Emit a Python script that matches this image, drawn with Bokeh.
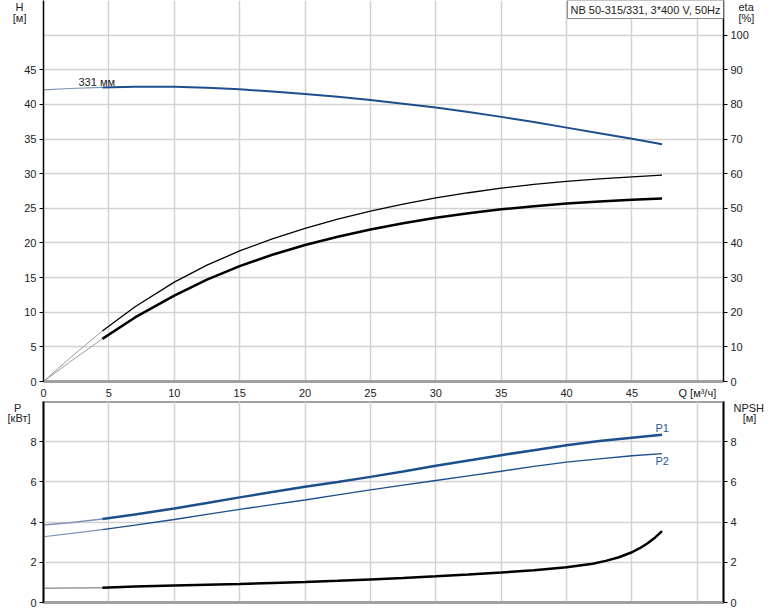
from bokeh.plotting import figure
from bokeh.models import Range1d, LinearAxis, FixedTicker, Label
from bokeh.layouts import column
from bokeh.embed import file_html
from bokeh.resources import INLINE

# ---------------- data ----------------
q = [0, 2, 4.5, 7, 10, 12.5, 15, 17.5, 20, 22.5, 25, 27.5, 30, 32.5, 35, 37.5, 40, 42.5, 45, 47.3]
head = [42.1, 42.3, 42.45, 42.55, 42.55, 42.4, 42.2, 41.85, 41.5, 41.1, 40.65, 40.1, 39.55, 38.9,
        38.2, 37.45, 36.65, 35.85, 35.05, 34.25]
eta1 = [0, 6.7, 14.6, 21.6, 28.7, 33.6, 37.7, 41.2, 44.2, 46.9, 49.2, 51.2, 53.0, 54.5,
        55.8, 56.9, 57.8, 58.5, 59.1, 59.6]
eta2 = [0, 5.6, 12.3, 18.5, 24.8, 29.4, 33.3, 36.6, 39.4, 41.8, 43.9, 45.7, 47.3, 48.6,
        49.7, 50.6, 51.4, 52.0, 52.45, 52.8]
p1 = [3.85, 3.97, 4.15, 4.38, 4.68, 4.95, 5.23, 5.5, 5.76, 6.0, 6.25, 6.52, 6.8, 7.07,
      7.33, 7.58, 7.82, 8.03, 8.2, 8.35]
p2 = [3.27, 3.43, 3.63, 3.85, 4.13, 4.38, 4.63, 4.87, 5.1, 5.35, 5.6, 5.84, 6.07, 6.3,
      6.53, 6.77, 6.98, 7.15, 7.3, 7.41]
q_npsh = [0, 2, 4.5, 7, 10, 12.5, 15, 17.5, 20, 22.5, 25, 27.5, 30, 32.5, 35, 37.5, 40, 42,
          43, 44, 45, 45.6, 46.2, 46.8, 47.3]
npsh = [0.71, 0.72, 0.74, 0.79, 0.84, 0.88, 0.92, 0.97, 1.02, 1.08, 1.15, 1.22, 1.3, 1.39,
        1.49, 1.6, 1.75, 1.93, 2.07, 2.25, 2.5, 2.7, 2.95, 3.25, 3.55]

q_split = 4.5
q_ticks = [0, 5, 10, 15, 20, 25, 30, 35, 40, 45, 50]
q_grid = [5, 10, 15, 20, 25, 30, 35, 40, 45, 50]
h_ticks = [0, 5, 10, 15, 20, 25, 30, 35, 40, 45]
h_grid = [5, 10, 15, 20, 25, 30, 35, 40, 45, 50]
eta_ticks = [0, 10, 20, 30, 40, 50, 60, 70, 80, 90, 100]
p_ticks = [0, 2, 4, 6, 8]
p_grid = [2, 4, 6, 8]
title_text = "NB 50-315/331, 3*400 V, 50Hz"
curve_label = "331 мм"
NB = "\u00a0"

# ---------------- styles ----------------
FONT = "Liberation Sans"
TXT = "#222222"
BLUE = "#1c4f8c"
BLUE_LIGHT = "#7d93b3"
GREY_EXT = "#9a9a9a"
GRID = "#d2d2d2"
XMAX = 52
HMAX = 55
PMAX = 10
FW, FH_TOP, FH_BOT = 680, 381, 201
BOT_FRAME_BOTTOM = 602
LEFT, RIGHT = 43, 51


def split(xs, ys, qb=q_split):
    ext = [(x, y) for x, y in zip(xs, ys) if x <= qb]
    main = [(x, y) for x, y in zip(xs, ys) if x >= qb]
    return ([a for a, _ in ext], [b for _, b in ext]), ([a for a, _ in main], [b for _, b in main])


def style_y_axis(ax):
    ax.axis_line_color = "black"
    ax.axis_line_width = 1.5
    ax.major_tick_line_color = "black"
    ax.major_tick_out = 4
    ax.major_tick_in = 0
    ax.minor_tick_line_color = None
    ax.major_label_standoff = 3
    ax.major_label_text_font = FONT
    ax.major_label_text_font_size = "11px"
    ax.major_label_text_color = TXT


def style_x_axis(ax):
    ax.axis_line_color = "#a0a0a0"
    ax.axis_line_width = 3
    ax.major_tick_line_color = None
    ax.minor_tick_line_color = None
    ax.major_tick_out = 0
    ax.major_tick_in = 0
    ax.major_label_standoff = 5
    ax.major_label_text_font = FONT
    ax.major_label_text_font_size = "11px"
    ax.major_label_text_color = TXT


def title_axis(fig, side, labels, standoff, range_name="default"):
    """An extra, line-less axis whose two tick labels act as the axis titles."""
    ax = LinearAxis(y_range_name=range_name, ticker=FixedTicker(ticks=list(labels.keys())),
                    major_label_overrides=labels)
    ax.axis_line_color = None
    ax.major_tick_line_color = None
    ax.minor_tick_line_color = None
    ax.major_tick_out = 0
    ax.major_tick_in = 0
    ax.major_label_standoff = standoff
    ax.major_label_text_font = FONT
    ax.major_label_text_font_size = "11px"
    ax.major_label_text_color = TXT
    fig.add_layout(ax, side)


def ty_top(py):
    return (FH_TOP - py) / FH_TOP * HMAX


def ty_bot(py):
    return (BOT_FRAME_BOTTOM - py) / FH_BOT * PMAX


def tx(px):
    return (px - LEFT) / FW * XMAX


# ---------------- top figure ----------------
top = figure(frame_width=FW, frame_height=FH_TOP, x_range=Range1d(0, XMAX), y_range=Range1d(0, HMAX),
             output_backend="svg", toolbar_location=None,
             min_border_left=LEFT, min_border_right=RIGHT, min_border_top=0, min_border_bottom=18,
             background_fill_color="white", border_fill_color="white")
top.outline_line_color = None
top.extra_y_ranges = {"eta": Range1d(0, HMAX * 2)}

style_x_axis(top.xaxis[0])
top.xaxis[0].ticker = FixedTicker(ticks=q_ticks)
top.xaxis[0].major_label_overrides = {50: "Q [м³/ч]"}
style_y_axis(top.yaxis[0])
top.yaxis[0].ticker = FixedTicker(ticks=h_ticks)
eta_axis = LinearAxis(y_range_name="eta", ticker=FixedTicker(ticks=eta_ticks))
style_y_axis(eta_axis)
top.add_layout(eta_axis, "right")

title_axis(top, "left", {ty_top(5): "H" + NB, ty_top(17.5): "[м]"}, -5)
title_axis(top, "right", {ty_top(5) * 2: "eta", ty_top(17.5) * 2: "[%]"}, -13, "eta")

top.xgrid.ticker = FixedTicker(ticks=q_grid)
top.ygrid.ticker = FixedTicker(ticks=h_grid)
top.grid.grid_line_color = GRID
top.grid.grid_line_width = 1.5

(hx, hy), (hmx, hmy) = split(q, head)
top.line(hx, hy, line_color=BLUE_LIGHT, line_width=1.2)
top.line(hmx, hmy, line_color=BLUE, line_width=2)

(ex, ey), (emx, emy) = split(q, eta1)
top.line(ex, ey, line_color=GREY_EXT, line_width=1, y_range_name="eta")
top.line(emx, emy, line_color="black", line_width=1.3, y_range_name="eta")
(ex2, ey2), (emx2, emy2) = split(q, eta2)
top.line(ex2, ey2, line_color=GREY_EXT, line_width=1, y_range_name="eta")
top.line(emx2, emy2, line_color="black", line_width=2.5, y_range_name="eta")

top.add_layout(Label(x=tx(78), y=ty_top(81.5), text=curve_label, text_font=FONT,
                     text_font_size="11px", text_color=TXT, text_align="left",
                     text_baseline="middle"))
top.add_layout(Label(x=XMAX, y=HMAX, text=title_text, text_font=FONT, text_font_size="11px",
                     text_color=TXT, text_align="right", text_baseline="top",
                     border_line_color="#8a8a8a", border_line_width=1,
                     background_fill_color="white", padding=3))

# ---------------- bottom figure ----------------
bot = figure(frame_width=FW, frame_height=FH_BOT, x_range=top.x_range, y_range=Range1d(0, PMAX),
             output_backend="svg", toolbar_location=None,
             min_border_left=LEFT, min_border_right=RIGHT, min_border_top=0, min_border_bottom=8,
             background_fill_color="white", border_fill_color="white")
bot.outline_line_color = "#a0a0a0"
bot.outline_line_width = 3
bot.extra_y_ranges = {"npsh": Range1d(0, PMAX)}

style_x_axis(bot.xaxis[0])
bot.xaxis[0].ticker = FixedTicker(ticks=[])
style_y_axis(bot.yaxis[0])
bot.yaxis[0].ticker = FixedTicker(ticks=p_ticks)
npsh_axis = LinearAxis(y_range_name="npsh", ticker=FixedTicker(ticks=p_ticks))
style_y_axis(npsh_axis)
bot.add_layout(npsh_axis, "right")

title_axis(bot, "left", {ty_bot(405): "P" + NB * 3, ty_bot(417): "[кВт]"}, -3)
title_axis(bot, "right", {ty_bot(405): "NPSH", ty_bot(417): NB * 3 + "[м]"}, -6, "npsh")

bot.xgrid.ticker = FixedTicker(ticks=q_grid)
bot.ygrid.ticker = FixedTicker(ticks=p_grid)
bot.grid.grid_line_color = GRID
bot.grid.grid_line_width = 1.5

(ax_, ay_), (amx, amy) = split(q, p1)
bot.line(ax_, ay_, line_color=BLUE_LIGHT, line_width=1.5)
bot.line(amx, amy, line_color=BLUE, line_width=2.5)
(bx_, by_), (bmx, bmy) = split(q, p2)
bot.line(bx_, by_, line_color=BLUE_LIGHT, line_width=1.2)
bot.line(bmx, bmy, line_color=BLUE, line_width=1.3)
(nx, ny), (nmx, nmy) = split(q_npsh, npsh)
bot.line(nx, ny, line_color=GREY_EXT, line_width=1.5, y_range_name="npsh")
bot.line(nmx, nmy, line_color="black", line_width=2.5, y_range_name="npsh")

for lbl, py in (("P1", 427.5), ("P2", 460)):
    bot.add_layout(Label(x=tx(655), y=ty_bot(py), text=lbl, text_font=FONT, text_font_size="11px",
                         text_color="#1f5a96", text_align="left", text_baseline="middle"))

layout = column(top, bot, spacing=0)
html = file_html(layout, INLINE, title="NB 50-315/331")
html = html.replace("<body>", '<body style="margin:0;">', 1)
open("out.html", "w").write(html)
